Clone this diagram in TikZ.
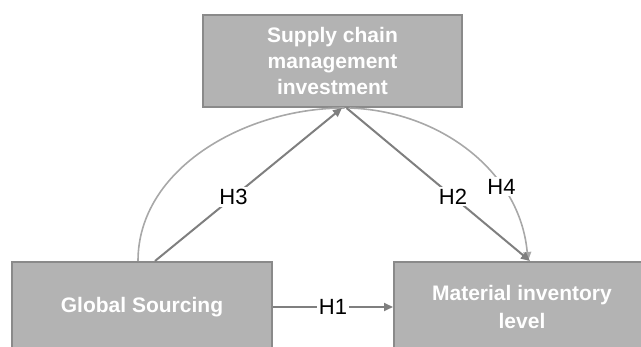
\documentclass[tikz,border=0pt]{standalone}
\usepackage{fontspec}
\setmainfont{Liberation Sans}
\usetikzlibrary{arrows.meta}
\definecolor{boxfill}{HTML}{B3B3B3}
\definecolor{boxline}{HTML}{8A8A8A}
\definecolor{linkgray}{HTML}{7F7F7F}
\definecolor{arcgray}{HTML}{A8A8A8}
\begin{document}
\begin{tikzpicture}[x=1pt,y=-1pt,
  box/.style={draw=boxline, line width=2pt, fill=boxfill, text=white,
    font=\fontsize{21}{26}\selectfont\bfseries, align=center, inner sep=0pt},
  link/.style={draw=linkgray, line width=2pt, -{Triangle[length=9pt,width=8pt]}},
  curvelink/.style={draw=arcgray, line width=1.6pt},
  hlabel/.style={fill=white, inner sep=2pt, text=black, font=\fontsize{22}{26}\selectfont}]
\useasboundingbox (0,0) rectangle (641,347);
\clip (0,0) rectangle (641,347);

% constructs
\node[box, minimum width=259pt, minimum height=92pt] (scm) at (332.5,61)
  {Supply chain\\management\\investment};
\node[box, minimum width=260pt, minimum height=90pt] (gs) at (142,307)
  {Global Sourcing};
\node[box, minimum width=256pt, minimum height=90pt] (mil) at (522,307)
  {Material inventory\\[2pt]level};

% curved (mediated) paths
\draw[curvelink] ([xshift=-4pt]gs.north) .. controls +(0,-92) and +(-100,0) .. ([xshift=12pt]scm.south);
\draw[curvelink, -{Triangle[length=9pt,width=8pt]}] ([xshift=17pt]scm.south)
  .. controls +(90,3) and +(-8,-90) .. node[hlabel, pos=0.69] {H4} ([xshift=6pt]mil.north);

% direct hypotheses
\draw[link] (gs.east) -- node[hlabel] {H1} (mil.west);
\draw[link] ([xshift=13pt]gs.north) -- node[hlabel, pos=0.42] {H3} ([xshift=9.5pt]scm.south);
\draw[link] ([xshift=14pt]scm.south) -- node[hlabel, pos=0.58] {H2} ([xshift=8pt]mil.north);
\end{tikzpicture}
\end{document}
